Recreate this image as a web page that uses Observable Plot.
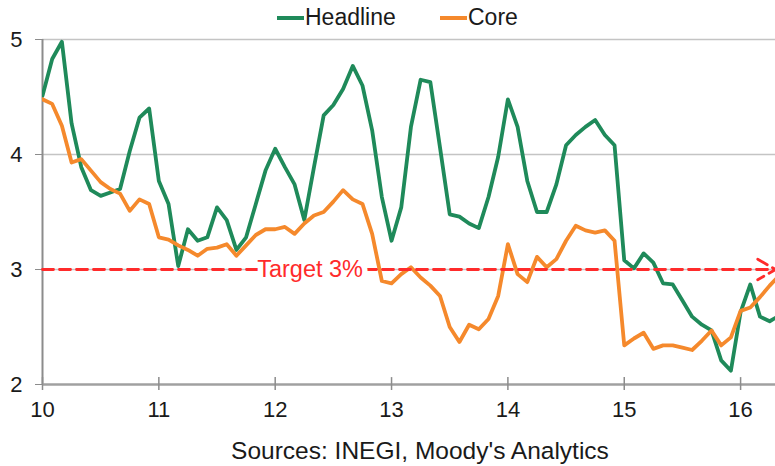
<!DOCTYPE html>
<html>
<head>
<meta charset="utf-8">
<script src="https://cdn.jsdelivr.net/npm/d3@7"></script>
<script src="https://cdn.jsdelivr.net/npm/@observablehq/plot@0.6"></script>
<style>
  html, body { margin: 0; padding: 0; background: #fff; }
  body { width: 775px; height: 466px; position: relative; overflow: hidden;
         font-family: "Liberation Sans", Arial, sans-serif; color: #1a1a1a; }
  #legend { position: absolute; left: 0; top: 0; width: 775px; height: 26px; }
  .item { position: absolute; top: 4px; font-size: 23px; line-height: 26px; white-space: nowrap; }
  .swatch { display: inline-block; width: 27px; height: 4px; vertical-align: middle; margin-right: 1px; position: relative; top: -1px; }
  #chart { position: absolute; left: 0; top: 26px; }
  #caption { position: absolute; left: 0; width: 840px; top: 437px; text-align: center; font-size: 24.5px; line-height: 28px; }
</style>
</head>
<body>
<div id="legend"></div>
<div id="chart"></div>
<div id="caption"></div>
<script>
// ---- data (monthly, Jan 2010 onward; year axis shown as 2-digit years) ----
const startYear = 10;
const seriesNames = ["Headline", "Core"];
const seriesColors = ["#1f8a5a", "#f5892c"];
const headline = [
  4.51, 4.83, 4.98, 4.27, 3.89, 3.69, 3.64, 3.67, 3.70, 4.03, 4.32, 4.40,
  3.77, 3.57, 3.03, 3.35, 3.25, 3.28, 3.54, 3.43, 3.17, 3.28, 3.57, 3.86,
  4.05, 3.89, 3.74, 3.43, 3.89, 4.34, 4.43, 4.57, 4.77, 4.60, 4.21, 3.63,
  3.25, 3.54, 4.24, 4.65, 4.63, 4.06, 3.48, 3.46, 3.40, 3.36, 3.63, 3.98,
  4.48, 4.24, 3.77, 3.50, 3.50, 3.74, 4.08, 4.17, 4.24, 4.30, 4.17, 4.08,
  3.08, 3.01, 3.14, 3.06, 2.88, 2.87, 2.73, 2.59, 2.52, 2.47, 2.21, 2.12,
  2.63, 2.87, 2.59, 2.55, 2.60
];
const core = [
  4.48, 4.44, 4.25, 3.93, 3.96, 3.86, 3.76, 3.70, 3.66, 3.51, 3.61, 3.57,
  3.28, 3.26, 3.21, 3.17, 3.12, 3.18, 3.19, 3.22, 3.12, 3.21, 3.30, 3.35,
  3.35, 3.37, 3.31, 3.40, 3.47, 3.50, 3.59, 3.69, 3.61, 3.57, 3.31, 2.90,
  2.88, 2.96, 3.02, 2.93, 2.86, 2.77, 2.50, 2.37, 2.52, 2.48, 2.57, 2.77,
  3.22, 2.96, 2.89, 3.11, 3.02, 3.09, 3.25, 3.38, 3.34, 3.32, 3.34, 3.25,
  2.34, 2.40, 2.45, 2.31, 2.34, 2.34, 2.32, 2.30, 2.38, 2.47, 2.34, 2.41,
  2.64, 2.67, 2.76, 2.86, 2.95
];
const xTicks = [10, 11, 12, 13, 14, 15, 16];
const yTicks = [2, 3, 4, 5];
const gridValues = [4, 5];
const target = 3;
const targetLabel = "Target 3%";
const caption = "Sources: INEGI, Moody's Analytics";

// ---- build table ----
const rows = [];
[headline, core].forEach((arr, s) => {
  arr.forEach((v, i) => rows.push({series: seriesNames[s], t: startYear + i / 12, v}));
});

const font = "'Liberation Sans', Arial, sans-serif";
const chart = Plot.plot({
  width: 775,
  height: 410,
  marginLeft: 42,
  marginRight: 0,
  marginTop: 13,
  marginBottom: 52,
  style: {fontFamily: font, fontSize: "22px", color: "#1a1a1a", background: "transparent", overflow: "visible"},
  x: {domain: [10, 16.3], ticks: xTicks},
  y: {domain: [2, 5], ticks: yTicks},
  color: {domain: seriesNames, range: seriesColors},
  marks: [
    Plot.ruleY(gridValues, {stroke: "#c4c4c4", strokeWidth: 1.5}),
    Plot.ruleY([target], {stroke: "#c4c4c4", strokeWidth: 1.5}),
    Plot.ruleX([10], {stroke: "#8c8c8c", strokeWidth: 2}),
    Plot.ruleY([2], {stroke: "#a0a0a0", strokeWidth: 2.5}),
    Plot.ruleX(xTicks, {y1: 1.948, y2: 2.06, stroke: "#8c8c8c", strokeWidth: 1.5}),
    Plot.axisY({ticks: yTicks, tickSize: 7, tickPadding: 13, stroke: "#8c8c8c", fill: "#1a1a1a", label: null, fontSize: 22, tickFormat: d => String(d)}),
    Plot.axisX({ticks: xTicks, tickSize: 0, tickPadding: 17, fill: "#1a1a1a", label: null, fontSize: 22, tickFormat: d => String(d)}),
    Plot.line(rows, {x: "t", y: "v", stroke: "series", strokeWidth: 3.8, clip: true}),
    Plot.arrow([{x1: 10, x2: 16.3, y: target}], {x1: "x1", x2: "x2", y1: "y", y2: "y", stroke: "#ff2b2b", strokeWidth: 2.8, strokeDasharray: "11,6", headLength: 11, bend: 0, insetEnd: 0}),
    Plot.text([{x: 12.3, y: target, t: targetLabel}], {x: "x", y: "y", text: "t", fill: "#ff2b2b", stroke: "white", strokeWidth: 11, strokeLinejoin: "round", paintOrder: "stroke", fontSize: 23.5})
  ]
});
document.getElementById("chart").appendChild(chart);

// ---- legend ----
const legend = document.getElementById("legend");
const legendLeft = [277, 440];
seriesNames.forEach((name, i) => {
  const d = document.createElement("div");
  d.className = "item";
  d.style.left = legendLeft[i] + "px";
  const sw = document.createElement("span");
  sw.className = "swatch";
  sw.style.background = seriesColors[i];
  d.appendChild(sw);
  d.appendChild(document.createTextNode(name));
  legend.appendChild(d);
});
document.getElementById("caption").textContent = caption;
</script>
</body>
</html>
